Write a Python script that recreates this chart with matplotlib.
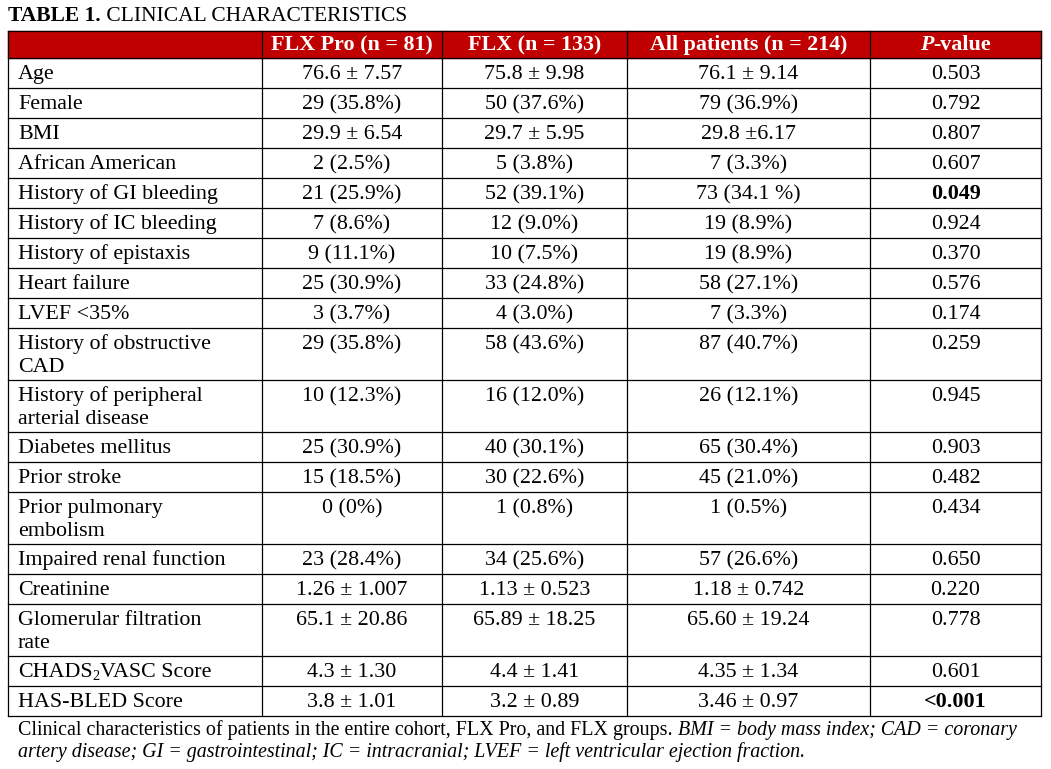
import matplotlib
matplotlib.use("Agg")
import matplotlib.pyplot as plt

headers = ["", "FLX Pro (n = 81)", "FLX (n = 133)", "All patients (n = 214)", "P-value"]
labels = ["Age", "Female", "BMI", "African American", "History of GI bleeding", "History of IC bleeding",
          "History of epistaxis", "Heart failure", "LVEF <35%", "History of obstructive\nCAD",
          "History of peripheral\narterial disease", "Diabetes mellitus", "Prior stroke",
          "Prior pulmonary\nembolism", "Impaired renal function", "Creatinine",
          "Glomerular filtration\nrate", "CHADS2VASC Score", "HAS-BLED Score"]
flx_pro = ["76.6 ± 7.57", "29 (35.8%)", "29.9 ± 6.54", "2 (2.5%)", "21 (25.9%)", "7 (8.6%)", "9 (11.1%)",
           "25 (30.9%)", "3 (3.7%)", "29 (35.8%)", "10 (12.3%)", "25 (30.9%)", "15 (18.5%)", "0 (0%)",
           "23 (28.4%)", "1.26 ± 1.007", "65.1 ± 20.86", "4.3 ± 1.30", "3.8 ± 1.01"]
flx = ["75.8 ± 9.98", "50 (37.6%)", "29.7 ± 5.95", "5 (3.8%)", "52 (39.1%)", "12 (9.0%)", "10 (7.5%)",
       "33 (24.8%)", "4 (3.0%)", "58 (43.6%)", "16 (12.0%)", "40 (30.1%)", "30 (22.6%)", "1 (0.8%)",
       "34 (25.6%)", "1.13 ± 0.523", "65.89 ± 18.25", "4.4 ± 1.41", "3.2 ± 0.89"]
all_pts = ["76.1 ± 9.14", "79 (36.9%)", "29.8 ±6.17", "7 (3.3%)", "73 (34.1 %)", "19 (8.9%)", "19 (8.9%)",
           "58 (27.1%)", "7 (3.3%)", "87 (40.7%)", "26 (12.1%)", "65 (30.4%)", "45 (21.0%)", "1 (0.5%)",
           "57 (26.6%)", "1.18 ± 0.742", "65.60 ± 19.24", "4.35 ± 1.34", "3.46 ± 0.97"]
pvals = ["0.503", "0.792", "0.807", "0.607", "0.049", "0.924", "0.370", "0.576", "0.174", "0.259",
         "0.945", "0.903", "0.482", "0.434", "0.650", "0.220", "0.778", "0.601", "<0.001"]
bold_p = {"0.049", "<0.001"}

FONT = "Liberation Serif"
FS = 15.8
W, H = 1051, 769
fig = plt.figure(figsize=(W / 100, H / 100), dpi=100)
ax = fig.add_axes([0, 0, 1, 1])
ax.set_xlim(0, W); ax.set_ylim(H, 0); ax.axis("off")
r = fig.canvas.get_renderer()

def runs(x, y, parts, ha="left", color="black"):
    objs = []
    widths = []
    for txt, st in parts:
        size = st.get("size", FS)
        t = ax.text(0, y + st.get("dy", 0), txt, fontfamily=FONT, fontsize=size,
                    fontweight=st.get("weight", "normal"), fontstyle=st.get("style", "normal"),
                    color=color, va="baseline", ha="left")
        widths.append(t.get_window_extent(r).width)
        objs.append(t)
    total = sum(widths)
    cx = x - total / 2 if ha == "center" else x
    for t, w in zip(objs, widths):
        t.set_x(cx); cx += w

cols = [8, 262, 442, 627, 870, 1041]
row_h = [30 if "\n" not in l else 52 for l in labels]
top, head_bot = 31, 58

# title
runs(8, 21, [("TABLE 1.", {"weight": "bold", "size": 15.5}), (" CLINICAL CHARACTERISTICS", {"size": 15.5})])

ax.add_patch(plt.Rectangle((cols[0], top), cols[-1] - cols[0], head_bot - top, color="#C00000", zorder=0))
for i in range(1, 4):
    runs((cols[i] + cols[i + 1]) / 2, 50, [(headers[i], {"weight": "bold"})], ha="center", color="white")
runs((cols[4] + cols[5]) / 2, 50, [("P", {"weight": "bold", "style": "italic"}), ("-value", {"weight": "bold"})],
     ha="center", color="white")

y = head_bot
ys = [top, head_bot]
for i, lab in enumerate(labels):
    base = y + 21
    for j, line in enumerate(lab.split("\n")):
        if "CHADS2" in line:
            runs(18, base, [("CHADS", {}), ("2", {"size": FS * 0.65, "dy": 3}), ("VASC Score", {})])
        else:
            runs(18, base + j * 23, [(line, {})])
    for c, vals in zip(range(1, 4), [flx_pro, flx, all_pts]):
        runs((cols[c] + cols[c + 1]) / 2, base, [(vals[i], {})], ha="center")
    runs((cols[4] + cols[5]) / 2, base, [(pvals[i], {"weight": "bold" if pvals[i] in bold_p else "normal"})],
         ha="center")
    y += row_h[i]
    ys.append(y)

for yy in ys:
    ax.plot([cols[0], cols[-1]], [yy, yy], color="black", lw=0.9)
for xx in cols:
    ax.plot([xx, xx], [top, ys[-1]], color="black", lw=0.9)

cap1 = [("Clinical characteristics of patients in the entire cohort, FLX Pro, and FLX groups. ", {}),
        ("BMI = body mass index; CAD = coronary", {"style": "italic"})]
cap2 = [("artery disease; GI = gastrointestinal; IC = intracranial; LVEF = left ventricular ejection fraction.",
         {"style": "italic"})]
for p in cap1 + cap2:
    p[1]["size"] = 14.4
runs(18, 735, cap1)
runs(18, 757, cap2)

fig.savefig("out.png", dpi=100)
